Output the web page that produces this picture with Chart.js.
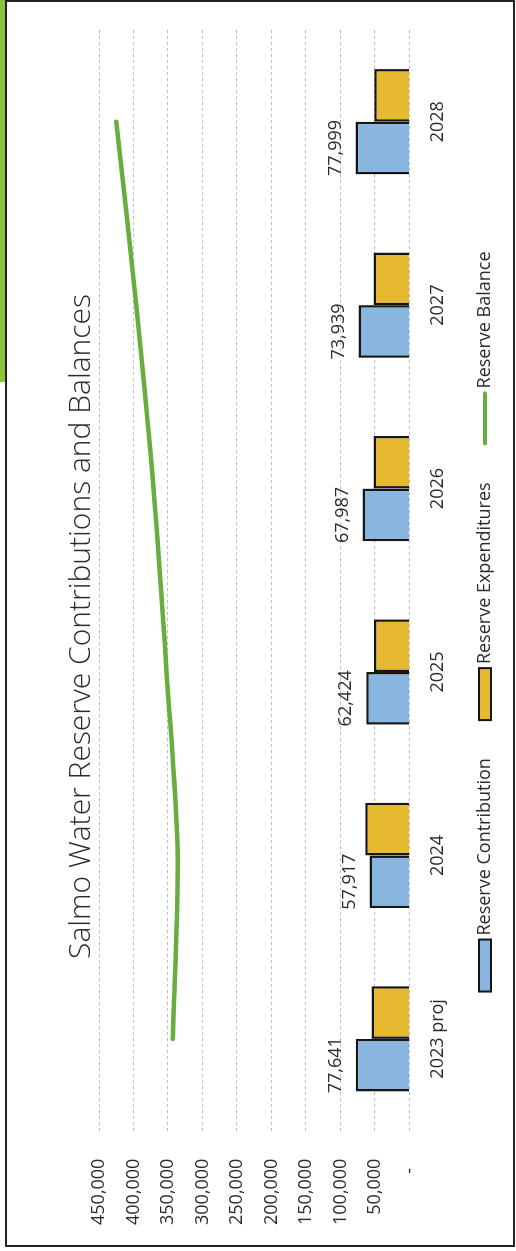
<!DOCTYPE html>
<html>
<head>
<meta charset="utf-8">
<script src="https://cdn.jsdelivr.net/npm/chart.js@4.4.1/dist/chart.umd.min.js"></script>
<style>
  html, body { margin: 0; padding: 0; background: #ffffff; }
  body { width: 516px; height: 1251px; position: relative; overflow: hidden; }
  #strip { position: absolute; left: 0; top: 0; width: 5px; height: 382px; background: #8cc43c; }
  #frame { position: absolute; left: 5px; top: 0; width: 510px; height: 1247px;
           box-sizing: border-box; border: 2px solid #222; }
  /* the chart is laid out landscape and turned a quarter-turn counter-clockwise */
  #turn { position: absolute; left: 0; top: 0; width: 1251px; height: 516px;
          transform-origin: 0 0; transform: translate(0, 1251px) rotate(-90deg); }
</style>
</head>
<body>
<div id="strip"></div>
<div id="frame"></div>
<div id="turn"><canvas id="c" width="1251" height="516"></canvas></div>
<script>
const categories = ['2023 proj', '2024', '2025', '2026', '2027', '2028'];
const contributions = [77641, 57917, 62424, 67987, 73939, 77999];
const expenditures = [55000, 64000, 51500, 52000, 52000, 51000];
const balance = [343000, 336000, 352000, 371000, 396000, 425000];
const valueTicks = [0, 50000, 100000, 150000, 200000, 250000, 300000, 350000, 400000, 450000];

const FONT = "'Open Sans', 'Liberation Sans', sans-serif";
const TEXT = '#2b2b2b';
const EDGE = '#151515';
const fmt = v => v.toLocaleString('en-US');

// value labels above the contribution bars
const barValueLabels = {
  id: 'barValueLabels',
  afterDatasetsDraw(chart) {
    const meta = chart.getDatasetMeta(0);
    const ctx = chart.ctx;
    ctx.save();
    ctx.font = '18px ' + FONT;
    ctx.fillStyle = TEXT;
    ctx.textAlign = 'center';
    ctx.textBaseline = 'middle';
    meta.data.forEach((bar, i) => {
      ctx.fillText(fmt(contributions[i]), bar.x, bar.y - 20);
    });
    ctx.restore();
  }
};

// legend row under the category labels: wide swatches for bars, a short stroke for the line
const legendRow = {
  id: 'legendRow',
  afterDraw(chart) {
    const ctx = chart.ctx;
    const swatchW = 52, swatchH = 12, gapText = 4, gapItem = 38;
    const cy = chart.height - 31;
    ctx.save();
    ctx.font = '18px ' + FONT;
    const items = chart.data.datasets.map(ds => ({
      ds, w: swatchW + gapText + ctx.measureText(ds.label).width
    }));
    const total = items.reduce((s, it) => s + it.w, 0) + gapItem * (items.length - 1);
    let x = chart.width / 2 - total / 2 + 4;
    items.forEach(({ ds, w }) => {
      if (ds.type === 'line') {
        ctx.strokeStyle = ds.borderColor;
        ctx.lineWidth = 4;
        ctx.lineCap = 'round';
        ctx.beginPath();
        ctx.moveTo(x + 1, cy);
        ctx.lineTo(x + swatchW - 1, cy);
        ctx.stroke();
      } else {
        ctx.fillStyle = ds.backgroundColor;
        ctx.fillRect(x, cy - swatchH / 2, swatchW, swatchH);
        ctx.strokeStyle = EDGE;
        ctx.lineWidth = 2;
        ctx.strokeRect(x, cy - swatchH / 2, swatchW, swatchH);
      }
      ctx.fillStyle = TEXT;
      ctx.textAlign = 'left';
      ctx.textBaseline = 'middle';
      ctx.fillText(ds.label, x + swatchW + gapText, cy);
      x += w + gapItem;
    });
    ctx.restore();
  }
};

new Chart(document.getElementById('c'), {
  data: {
    labels: categories,
    datasets: [
      {
        type: 'bar',
        label: 'Reserve Contribution',
        data: contributions,
        backgroundColor: '#89b6de',
        borderColor: EDGE,
        borderWidth: 2.5,
        categoryPercentage: 0.574,
        barPercentage: 1.0
      },
      {
        type: 'bar',
        label: 'Reserve Expenditures',
        data: expenditures,
        backgroundColor: '#e6b931',
        borderColor: EDGE,
        borderWidth: 2.5,
        categoryPercentage: 0.574,
        barPercentage: 1.0
      },
      {
        type: 'line',
        label: 'Reserve Balance',
        data: balance,
        borderColor: '#68ad3f',
        backgroundColor: '#68ad3f',
        borderWidth: 4.5,
        pointRadius: 0,
        tension: 0.3,
        borderCapStyle: 'round'
      }
    ]
  },
  options: {
    responsive: false,
    animation: false,
    devicePixelRatio: 1,
    layout: { padding: { top: 0, left: -2, right: 0, bottom: 49 } },
    scales: {
      x: {
        grid: { display: false, drawTicks: false },
        border: { display: false },
        ticks: { color: TEXT, font: { family: FONT, size: 18 }, padding: 18, maxRotation: 0 }
      },
      y: {
        min: 0,
        max: 450000,
        afterBuildTicks(scale) { scale.ticks = valueTicks.map(v => ({ value: v })); },
        grid: { color: '#bdbdbd', lineWidth: 1, drawTicks: false },
        border: { display: false, dash: [3, 3] },
        ticks: {
          color: TEXT,
          font: { family: FONT, size: 18 },
          padding: 28,
          callback: v => (v === 0 ? '-  ' : fmt(v))
        }
      },
      // empty margin to the right of the plot, so the title stays centred on the whole chart
      gutter: {
        type: 'linear',
        position: 'right',
        grid: { display: false, drawTicks: false },
        border: { display: false },
        ticks: { display: false },
        afterFit(scale) { scale.width = 30; }
      }
    },
    plugins: {
      title: {
        display: true,
        text: 'Salmo Water Reserve Contributions and Balances',
        color: TEXT,
        font: { family: FONT, size: 30, weight: '300' },
        padding: { top: 63, bottom: 0 }
      },
      legend: { display: false },
      tooltip: { enabled: false }
    }
  },
  plugins: [barValueLabels, legendRow]
});
</script>
</body>
</html>
